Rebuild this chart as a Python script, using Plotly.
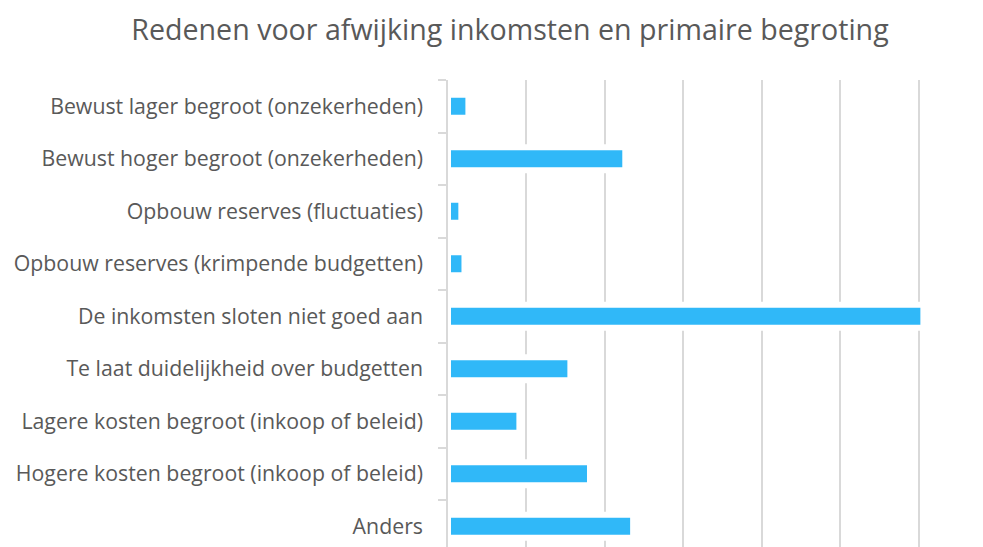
import plotly.graph_objects as go

# reasons, top to bottom as in the chart
redenen = [
    "Bewust lager begroot (onzekerheden)",
    "Bewust hoger begroot (onzekerheden)",
    "Opbouw reserves (fluctuaties)",
    "Opbouw reserves (krimpende budgetten)",
    "De inkomsten sloten niet goed aan",
    "Te laat duidelijkheid over budgetten",
    "Lagere kosten begroot (inkoop of beleid)",
    "Hogere kosten begroot (inkoop of beleid)",
    "Anders",
]
aantallen = [2.6, 22.6, 1.7, 2.1, 60.6, 15.6, 9.1, 18.1, 23.6]

titel = "Redenen voor afwijking inkomsten en primaire begroting"

grijs = "#d9d9d9"
tekst = "#595959"

# the page body has an 8px margin, positions below account for it
fig = go.Figure()
fig.add_trace(go.Bar(
    x=aantallen, y=redenen,
    orientation="h",
    marker_color="#30b8f8",
    marker_line_color="white",
    marker_line_width=6,
))

fig.update_layout(
    width=983, height=547,
    margin=dict(l=440, r=8, t=72, b=8, autoexpand=False),
    paper_bgcolor="white", plot_bgcolor="white",
    font=dict(family="Open Sans", color=tekst),
    title=dict(text=titel, x=502 / 983, xanchor="center", xref="container",
               y=1 - 22 / 547, yanchor="middle", yref="container",
               font=dict(size=28.6, color=tekst)),
    bargap=0.56,
    showlegend=False,
)
fig.update_xaxes(
    range=[0, 68.2], dtick=10, showticklabels=False,
    showgrid=True, gridcolor=grijs, gridwidth=1.5,
    zeroline=False, showline=False, ticks="",
)
fig.update_yaxes(
    type="category", categoryorder="array", categoryarray=redenen,
    range=[8.395, -0.5], autorange=False,
    showline=True, linecolor=grijs, linewidth=1.5,
    ticks="outside", tickson="boundaries", ticklen=8, tickwidth=1.5, tickcolor=grijs,
    ticklabelstandoff=19, tickfont=dict(size=21.3, color=tekst),
    showgrid=False, layer="above traces",
)

fig.write_html("out.html")
